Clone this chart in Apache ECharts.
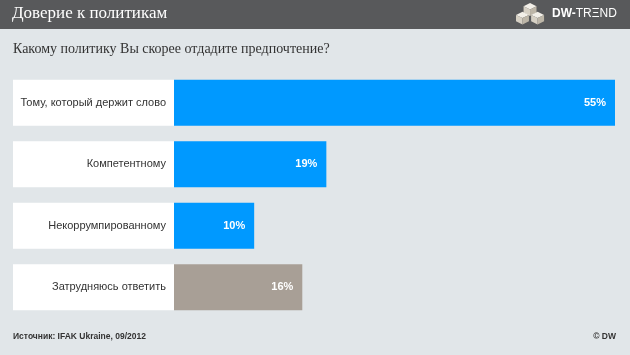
<!DOCTYPE html>
<html>
<head>
<meta charset="utf-8">
<script src="https://cdn.jsdelivr.net/npm/echarts@6/dist/echarts.min.js"></script>
<style>
html,body{margin:0;padding:0;background:#e1e6e9;}
#c{width:630px;height:355px;}
</style>
</head>
<body>
<div id="c"></div>
<script>
var categories = ['Тому, который держит слово', 'Компетентному', 'Некоррумпированному', 'Затрудняюсь ответить'];
var values = [55, 19, 10, 16];
var barColors = ['#0099ff', '#0099ff', '#0099ff', '#a89f96'];
var titleText = 'Доверие к политикам';
var subtitleText = 'Какому политику Вы скорее отдадите предпочтение?';
var sourceText = 'Источник: IFAK Ukraine, 09/2012';
var copyrightText = '© DW';

var chart = echarts.init(document.getElementById('c'), null, {renderer: 'canvas'});
chart.setOption({
  backgroundColor: '#e1e6e9',
  animation: false,
  grid: {left: 174, right: 15, top: 72, height: 246, containLabel: false},
  xAxis: {type: 'value', min: 0, max: 55, show: false},
  yAxis: {
    type: 'category', data: categories, inverse: true,
    axisLine: {show: false}, axisTick: {show: false}, splitLine: {show: false},
    axisLabel: {
      margin: 0, backgroundColor: '#ffffff', width: 153, height: 46, lineHeight: 46,
      padding: [0, 8, 0, 0], align: 'right', color: '#333333',
      fontFamily: 'Liberation Sans, Arial, sans-serif', fontSize: 11
    }
  },
  series: [{
    type: 'bar', barWidth: 46,
    data: values.map(function (v, i) { return {value: v, itemStyle: {color: barColors[i]}}; }),
    label: {
      show: true, position: 'insideRight', distance: 9,
      formatter: '{c}%', color: '#ffffff', fontWeight: 'bold', fontSize: 11,
      fontFamily: 'Liberation Sans, Arial, sans-serif'
    }
  }],
  graphic: [
    {type: 'rect', left: 0, top: 0, shape: {width: 630, height: 29}, style: {fill: '#58595b'}, z: 0},
    {type: 'text', left: 12, top: 5, style: {text: titleText, fill: '#ffffff', font: '17px "Liberation Serif", "DejaVu Serif", serif'}},
    {type: 'text', left: 13, top: 42, style: {text: subtitleText, fill: '#333333', font: '14px "Liberation Serif", "DejaVu Serif", serif'}},
    {type: 'text', left: 13, top: 332, style: {text: sourceText, fill: '#333333', font: 'bold 8.5px "Liberation Sans", Arial, sans-serif'}},
    {type: 'text', right: 14, top: 332, style: {text: copyrightText, fill: '#333333', font: 'bold 8.5px "Liberation Sans", Arial, sans-serif'}},
    {type: 'group', left: 516, top: 3, scaleX: 1.08, scaleY: 1.08, children: [
      {type: 'polygon', shape: {points: [[8,5],[14,2],[20,5],[14,8]]}, style: {fill: '#f2efe8'}},
      {type: 'polygon', shape: {points: [[8,5],[14,8],[14,14],[8,11]]}, style: {fill: '#d6d0c4'}},
      {type: 'polygon', shape: {points: [[14,8],[20,5],[20,11],[14,14]]}, style: {fill: '#bdb6a8'}},
      {type: 'polygon', shape: {points: [[1,13],[7,10],[13,13],[7,16]]}, style: {fill: '#f2efe8'}},
      {type: 'polygon', shape: {points: [[1,13],[7,16],[7,22],[1,19]]}, style: {fill: '#d6d0c4'}},
      {type: 'polygon', shape: {points: [[7,16],[13,13],[13,19],[7,22]]}, style: {fill: '#bdb6a8'}},
      {type: 'polygon', shape: {points: [[15,13],[21,10],[27,13],[21,16]]}, style: {fill: '#f2efe8'}},
      {type: 'polygon', shape: {points: [[15,13],[21,16],[21,22],[15,19]]}, style: {fill: '#d6d0c4'}},
      {type: 'polygon', shape: {points: [[21,16],[27,13],[27,19],[21,22]]}, style: {fill: '#bdb6a8'}}
    ]},
    {type: 'text', left: 552, top: 8, style: {
      text: '{a|DW-}{b|TR\u039eND}',
      rich: {
        a: {fill: '#ffffff', font: 'bold 12px "Liberation Sans", Arial, sans-serif'},
        b: {fill: '#ffffff', font: '12px "Liberation Sans", Arial, sans-serif'}
      }
    }}
  ]
});
</script>
</body>
</html>
